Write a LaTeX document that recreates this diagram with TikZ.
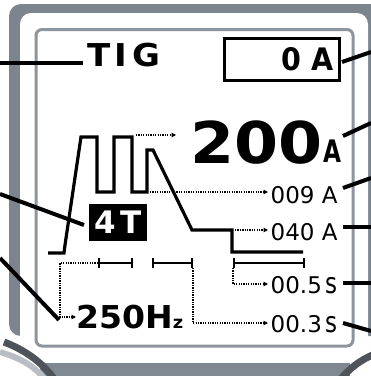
\documentclass[tikz,border=0pt]{standalone}
\usepackage{fontspec}
\usepackage{graphicx}
\setmainfont{DejaVu Sans}
\usetikzlibrary{arrows.meta}
\definecolor{frameGray}{RGB}{124,132,142}
\definecolor{innerGray}{RGB}{140,148,158}
\definecolor{darkGray}{RGB}{78,84,90}
\definecolor{bandGray}{RGB}{128,136,146}
\definecolor{lightGray}{RGB}{185,190,196}
\newcommand{\fsz}[1]{\fontsize{#1}{#1}\selectfont}
\begin{document}
\begin{tikzpicture}[x=1pt,y=-1pt,
  lead/.style={line width=4pt, draw=black, line cap=butt},
  dotl/.style={line width=1.4pt, dash pattern=on 1.3pt off 1.1pt, -{Triangle[length=4.5pt,width=4.5pt]}},
  barl/.style={line width=2.2pt, {Bar[width=10pt]}-{Bar[width=10pt]}},
  wave/.style={line width=3.2pt, line join=miter},
  txt/.style={inner sep=0pt, anchor=base west},
]
\useasboundingbox (0,0) rectangle (371,376);
% ---------- frame ----------
\fill[frameGray, rounded corners=12pt] (9,4) rectangle (395,336);
\fill[white, rounded corners=11pt] (20,13) rectangle (368,362);
\draw[innerGray, line width=3pt, rounded corners=6pt] (36,29.5) rectangle (353,346);
\fill[bandGray] (40,363) rectangle (350,376);
\draw[lightGray, line width=6pt] (0,352) .. controls (20,358) and (35,366) .. (45,380);
\draw[darkGray, line width=7pt] (4,342) .. controls (25,350) and (42,362) .. (55,380);
\draw[darkGray, line width=7pt] (340,380) .. controls (350,368) and (360,360) .. (375,354);
% ---------- waveform ----------
\draw[wave] (48,253) -- (64,253) -- (65,245) -- (81,137) -- (97,137) -- (97,192) -- (114,192) -- (114,137) -- (132,137) -- (132,192) -- (147,192) -- (147,150) -- (153,150) -- (192,230) -- (232,230) -- (232,252) -- (303,252);
% ---------- interval bars ----------
\draw[barl] (98,263) -- (133,263);
\draw[barl] (152,263) -- (193,263);
\draw[barl] (233,263) -- (305,263);
% ---------- texts ----------
\node[txt, font=\bfseries\fsz{31.5}] (tig) at (87,66) {\scalebox{1.08}[1]{T\kern4pt I\kern5pt G}};
\node[draw, line width=3pt, minimum width=115pt, minimum height=42.5pt, inner sep=0pt] (curBox) at (282,59.5) {};
\node[anchor=base east, inner sep=0pt, font=\bfseries\fsz{31}] (zeroA) at (334,70.5) {\scalebox{0.92}[1]{0\kern11pt A}};
\node[txt, font=\bfseries\fsz{57.6}] (cur) at (190,163) {\scalebox{1.1}[1]{200}};
\node[txt, font=\bfseries\fsz{31}] (curA) at (323,162.5) {\scalebox{0.75}[1]{A}};
\node[txt, font=\fsz{23}] (base) at (270.5,203) {009 A};
\node[txt, font=\fsz{23}] (slope) at (270.5,240) {040 A};
\node[txt, font=\fsz{23}] (t1) at (270.5,293) {00.5\,\scalebox{1}[1.25]{s}};
\node[txt, font=\fsz{23}] (t2) at (270.5,332) {00.3\,\scalebox{1}[1.25]{s}};
\node[txt, font=\bfseries\fsz{31.5}] (freq) at (76,328) {\scalebox{1.05}[1]{250H{\fsz{17}z}}};
\node[fill=black, text=white, minimum width=58pt, minimum height=37pt, inner sep=0pt, font=\bfseries\fsz{31}] (mode) at (118,222.5) {4\kern5pt T};
% ---------- dotted guides ----------
\coordinate (pTop) at (136,135);
\coordinate (pLow) at (150,192);
\coordinate (pStep) at (235,230);
\coordinate (b3) at (233,268);
\coordinate (b1) at (98,263);
\coordinate (b2) at (193,268);
\draw[dotl] (pTop) -- (176,135);
\draw[dotl] (pLow) -- (268,192);
\draw[dotl] (pStep) -- (268,230);
\draw[dotl] (b3) -- (233,284) -- (268,284);
\draw[dotl] (b1) -- (60,263) -- (60,317) -- (76,317);
\draw[dotl] (b2) -- (193,323) -- (268,323);
% ---------- leader lines ----------
\coordinate (L1) at (0,63);   \coordinate (tigP) at (83,63);
\coordinate (L2) at (0,194);  \coordinate (modeP) at (84,225);
\coordinate (L3) at (0,258);  \coordinate (freqP) at (59,320);
\coordinate (R0) at (371,52); \coordinate (boxP) at (342,62);
\coordinate (R1) at (371,123); \coordinate (curP) at (343,136);
\coordinate (R2) at (371,178); \coordinate (baseP) at (343,188);
\coordinate (R3) at (371,227); \coordinate (slopeP) at (343,227);
\coordinate (R4) at (371,283); \coordinate (t1P) at (343,283);
\coordinate (R5) at (371,331); \coordinate (t2P) at (343,323);
\draw[lead] (L1) -- (tigP);
\draw[lead] (L2) -- (modeP);
\draw[lead] (L3) -- (freqP);
\draw[lead] (boxP) -- (R0);
\draw[lead] (curP) -- (R1);
\draw[lead] (baseP) -- (R2);
\draw[lead] (slopeP) -- (R3);
\draw[lead] (t1P) -- (R4);
\draw[lead] (t2P) -- (R5);
\end{tikzpicture}
\end{document}
